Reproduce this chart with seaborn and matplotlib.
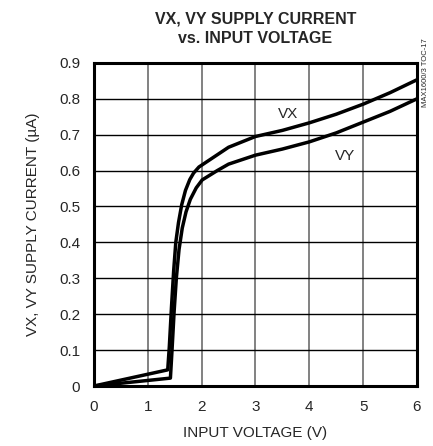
import numpy as np
import pandas as pd
import matplotlib
matplotlib.use("Agg")
import matplotlib.pyplot as plt
import seaborn as sns

# curve: input voltage (V) vs supply current (uA)
vx_v = [0, 1.37, 1.40, 1.44, 1.48, 1.52, 1.57, 1.63, 1.70, 1.78, 1.85, 1.95, 2.07, 2.3, 2.5, 3.0, 3.5, 4.0, 4.5, 5.0, 5.5, 6.0]
vx_i = [0, 0.045, 0.11, 0.22, 0.32, 0.40, 0.455, 0.505, 0.545, 0.575, 0.593, 0.61, 0.622, 0.645, 0.665, 0.695, 0.712, 0.733, 0.757, 0.785, 0.817, 0.853]
vy_v = [0, 1.42, 1.45, 1.49, 1.53, 1.58, 1.64, 1.71, 1.79, 1.90, 2.01, 2.29, 2.5, 3.0, 3.5, 4.0, 4.5, 5.0, 5.5, 6.0]
vy_i = [0, 0.022, 0.10, 0.21, 0.30, 0.38, 0.44, 0.485, 0.52, 0.552, 0.574, 0.60, 0.618, 0.643, 0.66, 0.68, 0.705, 0.735, 0.765, 0.80]

x_ticks = [0, 1, 2, 3, 4, 5, 6]
y_ticks = [0, 0.1, 0.2, 0.3, 0.4, 0.5, 0.6, 0.7, 0.8, 0.9]
y_ticklabels = ["0", "0.1", "0.2", "0.3", "0.4", "0.5", "0.6", "0.7", "0.8", "0.9"]

df = pd.concat([
    pd.DataFrame({"v": vx_v, "i": vx_i, "out": "VX"}),
    pd.DataFrame({"v": vy_v, "i": vy_i, "out": "VY"}),
])

sns.set_style("white")
plt.rcParams["font.family"] = ["Liberation Sans", "DejaVu Sans"]

fig = plt.figure(figsize=(4.33, 4.46), dpi=100)
ax = fig.add_axes([0.217, 0.1345, 0.746, 0.7245])

sns.lineplot(data=df, x="v", y="i", units="out", estimator=None, sort=False,
             color="black", linewidth=2.5, ax=ax, legend=False)

ax.set_xlim(0, 6)
ax.set_ylim(0, 0.9)
ax.set_xticks(x_ticks)
ax.set_yticks(y_ticks)
ax.set_yticklabels(y_ticklabels)
ax.tick_params(length=0, labelsize=11, pad=10)

for x in x_ticks[1:-1]:
    ax.axvline(x, color="#777777", lw=1.3, zorder=0)
for y in y_ticks[1:-1]:
    ax.axhline(y, color="black", lw=1.0, zorder=0)

for s in ax.spines.values():
    s.set_color("black")
    s.set_linewidth(2.2)

ax.set_xlabel("INPUT VOLTAGE (V)", fontsize=11, labelpad=9)
ax.set_ylabel("VX, VY SUPPLY CURRENT (\u00b5A)", fontsize=11, labelpad=14)
ax.set_title("VX, VY SUPPLY CURRENT\nvs. INPUT VOLTAGE", fontsize=11.5,
             fontweight="bold", pad=14, linespacing=1.45)

ax.text(3.6, 0.758, "VX", fontsize=11, ha="center", va="center")
ax.text(4.66, 0.641, "VY", fontsize=11, ha="center", va="center")
fig.text(0.982, 0.915, "MAX1600/3 TOC-17", rotation=90, fontsize=5.5,
         ha="center", va="top")

fig.savefig("out.png", dpi=100)
